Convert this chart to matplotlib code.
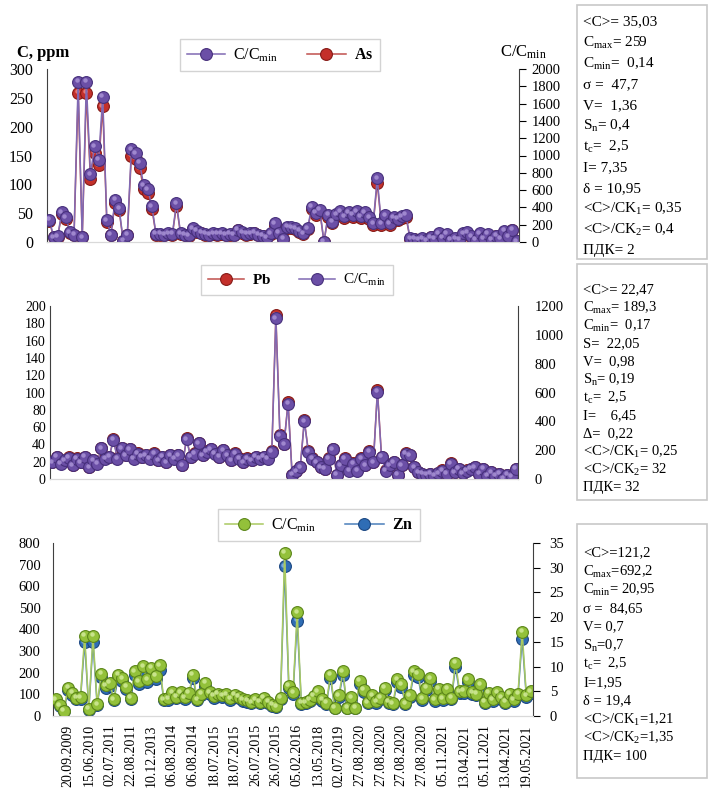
import numpy as np
import matplotlib
matplotlib.use("Agg")
import matplotlib.pyplot as plt
import matplotlib.transforms as mtransforms
from matplotlib.patches import Rectangle

plt.rcParams["font.family"] = ["Liberation Serif", "DejaVu Serif"]
plt.rcParams["mathtext.fontset"] = "custom"
plt.rcParams["mathtext.rm"] = "Liberation Serif"
plt.rcParams["mathtext.it"] = "Liberation Serif:italic"
plt.rcParams["mathtext.bf"] = "Liberation Serif:bold"

W, H = 708, 799

# concentrations, ppm (one value per sample)
as_ppm = [36, 8, 9, 48, 40, 16, 12, 259, 8, 259, 110, 155, 133, 235, 35, 12, 68, 55, 2, 12,
          150, 144, 128, 92, 85, 58, 13, 13, 12, 14, 13, 63, 14, 12, 11, 22, 18, 15, 13, 12,
          14, 13, 14, 12, 13, 12, 20, 16, 13, 14, 15, 12, 10, 8, 14, 30, 15, 5, 25, 24,
          22, 18, 14, 22, 57, 47, 52, 0.14, 44, 33, 45, 50, 42, 48, 44, 50, 42, 48, 40, 30,
          103, 30, 43, 30, 40, 38, 42, 44, 6, 5, 4, 6, 3, 8, 5, 14, 7, 13, 4, 6,
          4, 14, 16, 9, 4, 14, 6, 13, 4, 10, 6, 18, 9, 20, 1]
pb_ppm = [20, 26, 18, 22, 25, 16, 24, 20, 26, 14, 22, 18, 36, 24, 26, 46, 24, 36, 28, 35,
          24, 30, 26, 28, 24, 30, 22, 26, 20, 28, 24, 28, 16, 47, 26, 30, 42, 28, 32, 35,
          30, 26, 34, 28, 22, 30, 24, 20, 24, 22, 26, 24, 26, 24, 32, 189.3, 51, 41, 89, 5,
          9, 14, 68, 32, 24, 20, 14, 12, 24, 35, 5, 16, 24, 10, 18, 10, 24, 16, 32, 20,
          103, 26, 10, 16, 20, 5, 16, 30, 28, 14, 8, 6, 5, 6, 4, 7, 10, 6, 18, 8,
          12, 7, 10, 12, 14, 6, 12, 4, 8, 4, 6, 0.17, 5, 3, 12]
zn_ppm = [72, 45, 22, 120, 98, 78, 80, 341, 30, 341, 50, 180, 130, 140, 72, 175, 160, 125, 78, 190,
          148, 210, 155, 205, 170, 215, 72, 75, 100, 82, 100, 80, 98, 175, 72, 95, 140, 100, 85, 95,
          88, 92, 75, 90, 82, 70, 66, 58, 72, 60, 78, 60, 48, 42, 78, 692.2, 128, 100, 440, 56,
          58, 68, 85, 105, 70, 56, 175, 35, 88, 190, 35, 80, 35, 150, 112, 58, 88, 62, 78, 120,
          60, 55, 155, 135, 55, 88, 190, 180, 76, 120, 160, 70, 116, 76, 116, 78, 225, 105, 108, 155,
          100, 95, 135, 60, 98, 70, 100, 80, 60, 95, 70, 95, 357, 88, 105]

as_cmin, pb_cmin, zn_cmin = 0.14, 0.17, 20.95

dates = ["20.09.2009", "15.06.2010", "02.07.2011", "22.08.2011", "10.12.2013",
         "06.08.2014", "06.08.2014", "18.07.2015", "18.07.2015", "26.07.2015",
         "26.07.2015", "05.02.2016", "13.05.2018", "02.07.2019", "27.08.2020",
         "27.08.2020", "27.08.2020", "27.08.2020", "05.11.2021", "13.04.2021",
         "05.11.2021", "13.04.2021", "19.05.2021"]

as_stats = ["<C>= 35,03", r"$\mathrm{C}_{\mathrm{max}}$= 259", r"$\mathrm{C}_{\mathrm{min}}$=  0,14",
            "σ =  47,7", "V=  1,36", r"$\mathrm{S}_{\mathrm{n}}$= 0,4", r"$\mathrm{t}_{\mathrm{c}}$=  2,5",
            "I= 7,35", "δ = 10,95", r"<C>/CK$_{1}$= 0,35", r"<C>/CK$_{2}$= 0,4", "ПДК= 2"]
pb_stats = ["<C>= 22,47", r"$\mathrm{C}_{\mathrm{max}}$= 189,3", r"$\mathrm{C}_{\mathrm{min}}$=  0,17",
            "S=  22,05", "V=  0,98", r"$\mathrm{S}_{\mathrm{n}}$= 0,19", r"$\mathrm{t}_{\mathrm{c}}$=  2,5",
            "I=    6,45", "Δ=  0,22", r"<C>/CK$_{1}$= 0,25", r"<C>/CK$_{2}$= 32", "ПДК= 32"]
zn_stats = ["<C>=121,2", r"$\mathrm{C}_{\mathrm{max}}$=692,2", r"$\mathrm{C}_{\mathrm{min}}$= 20,95",
            "σ =  84,65", "V= 0,7", r"$\mathrm{S}_{\mathrm{n}}$=0,7", r"$\mathrm{t}_{\mathrm{c}}$=  2,5",
            "I=1,95", "δ = 19,4", r"<C>/CK$_{1}$=1,21", r"<C>/CK$_{2}$=1,35", "ПДК= 100"]

# line colour, marker face, marker edge, highlight
PURPLE = ("#8069b3", "#6b4fa6", "#47307c", "#a993d6")
RED = ("#c0504d", "#c4302b", "#861a16", "#ec8a86")
GREEN = ("#a9c961", "#93c13a", "#5c861a", "#d2ea9a")
BLUE = ("#4a7ebb", "#2f6db5", "#1b4782", "#8ab4e4")


def fig_rect(x0, y0, x1, y1):
    return [x0 / W, 1 - y1 / H, (x1 - x0) / W, (y1 - y0) / H]


def series(ax, y, style, label):
    line_c, face, edge, hi = style
    x = np.arange(len(y))
    ln, = ax.plot(x, y, "-o", lw=1.1, ms=8.5, mew=0.8, color=line_c, mfc=face, mec=edge,
                  label=label)
    # small glossy spot on every ball
    shift = mtransforms.offset_copy(ax.transData, fig=fig, x=-1.5, y=1.5, units="dots")
    ax.plot(x, y, "o", ms=3.2, mew=0, color=hi, alpha=0.85, transform=shift)
    return ln


def panel(rect, conc, cmin, conc_style, ratio_style, elem, lmax, lstep, rmax, rstep,
          lfs, rfs, lpad, rpad, rticks):
    ax = fig.add_axes(rect)
    ax2 = ax.twinx()
    n = len(conc)
    ratio = np.array(conc) / cmin
    h_c = series(ax, conc, conc_style, elem)
    h_r = series(ax2, ratio, ratio_style, r"C/C$_{\mathrm{min}}$")
    ax.set_xlim(-0.6, n - 0.4)
    ax.set_ylim(0, lmax)
    ax2.set_ylim(0, rmax)
    ax.set_yticks(np.arange(0, lmax + 0.1, lstep))
    ax2.set_yticks(np.arange(0, rmax + 0.1, rstep))
    ax.tick_params(axis="y", length=0, labelsize=lfs, pad=lpad)
    ax2.tick_params(axis="y", length=5 if rticks else 0, width=0.8, labelsize=rfs, pad=rpad,
                    direction="out")
    ax.set_xticks([])
    for a in (ax, ax2):
        a.spines["top"].set_visible(False)
        a.spines["bottom"].set_color("#d9d9d9")
        a.spines["left"].set_color("#404040")
        a.spines["right"].set_color("#404040")
    ax.spines["right"].set_visible(False)
    ax2.spines["left"].set_visible(False)
    ax.set_zorder(1)
    ax2.set_zorder(2)
    ax.patch.set_visible(False)
    ax2.patch.set_visible(False)
    return ax, ax2, h_c, h_r


def stats_box(x0, y0, x1, y1, lines, ytop, step, x_text, fs):
    fig.add_artist(Rectangle((x0 / W, 1 - y1 / H), (x1 - x0) / W, (y1 - y0) / H,
                             transform=fig.transFigure, fill=False, ec="#c8c8c8", lw=1.2))
    for k, s in enumerate(lines):
        fig.text(x_text / W, 1 - (ytop + k * step) / H, s, fontsize=fs, va="center", ha="left")


def legend(handles, labels, cx, cy, fs):
    lg = fig.legend(handles, labels, loc="center", bbox_to_anchor=(cx / W, 1 - cy / H), ncol=2,
                    fontsize=fs, frameon=True, fancybox=False, handlelength=2.4,
                    columnspacing=1.8, borderpad=0.45, handletextpad=0.5)
    lg.get_frame().set_edgecolor("#c8c8c8")
    lg.get_frame().set_linewidth(1.0)
    return lg


fig = plt.figure(figsize=(W / 100, H / 100), dpi=100)

# As
ax, ax2, h_as, h_r1 = panel(fig_rect(47, 69, 519, 242), as_ppm, as_cmin, RED, PURPLE, "As",
                            300, 50, 2000, 200, 11.5, 10.5, 10, 4, True)
fig.text(17 / W, 1 - 53 / H, "C, ppm", fontsize=12, fontweight="bold", va="center")
fig.text(500 / W, 1 - 52 / H, r"C/C$_{\mathrm{min}}$", fontsize=12, va="center")
legend([h_r1, h_as], [r"C/C$_{\mathrm{min}}$", r"$\mathbf{As}$"], 280, 55, 11.5)
stats_box(577, 5, 707, 259, as_stats, 22, 20.8, 583, 11)

# Pb
ax, ax2, h_pb, h_r2 = panel(fig_rect(50, 306, 518, 479), pb_ppm, pb_cmin, RED, PURPLE, "Pb",
                            200, 20, 1200, 200, 10, 10.5, 3, 12, False)
legend([h_pb, h_r2], [r"$\mathbf{Pb}$", r"C/C$_{\mathrm{min}}$"], 297, 280, 11)
stats_box(577, 264, 707, 500, pb_stats, 290, 18, 583, 10.5)

# Zn
ax, ax2, h_zn, h_r3 = panel(fig_rect(53, 543, 533, 716), zn_ppm, zn_cmin, BLUE, GREEN, "Zn",
                            800, 100, 35, 5, 10.5, 10.5, 9, 7, True)
ticks = np.arange(3, 3 + 5 * len(dates), 5)
ax.set_xticks(ticks)
ax.set_xticklabels(dates, rotation=90, fontsize=10)
ax.tick_params(axis="x", length=0, pad=6)
legend([h_r3, h_zn], [r"C/C$_{\mathrm{min}}$", r"$\mathbf{Zn}$"], 319, 525, 11.5)
stats_box(577, 524, 707, 778, zn_stats, 553, 18.5, 583, 10.5)

fig.savefig("out.png", dpi=100)
